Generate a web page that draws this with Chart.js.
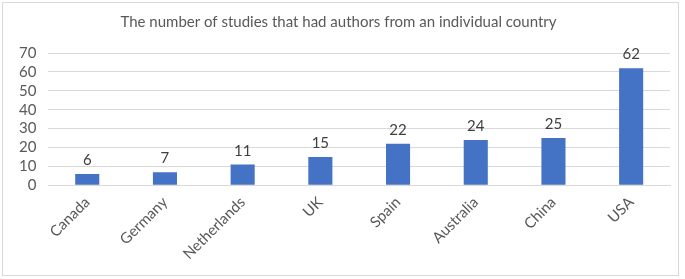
<!DOCTYPE html>
<html>
<head>
<meta charset="utf-8">
<script src="https://cdn.jsdelivr.net/npm/chart.js@4"></script>
<style>
  body { margin: 0; background: #fff; }
  #wrap { position: absolute; left: 2px; top: 2px; width: 677px; height: 274px; border: 1px solid #d9d9d9; box-sizing: border-box; }
</style>
</head>
<body>
<div id="wrap"><canvas id="chart"></canvas></div>
<script>
const countries = ['Canada', 'Germany', 'Netherlands', 'UK', 'Spain', 'Australia', 'China', 'USA']
const studies = [6, 7, 11, 15, 22, 24, 25, 62]
const chartTitle = 'The number of studies that had authors from an individual country'

const fontFamily = 'Lato, "Open Sans", sans-serif'
const textColor = '#595959'

// writes the value above each bar
const barValues = {
    id: 'barValues',
    afterDatasetsDraw(chart) {
        const ctx = chart.ctx
        const meta = chart.getDatasetMeta(0)
        ctx.save()
        ctx.font = '15px ' + fontFamily
        ctx.fillStyle = '#404040'
        ctx.textAlign = 'center'
        ctx.textBaseline = 'bottom'
        meta.data.forEach((bar, i) => {
            ctx.fillText(chart.data.datasets[0].data[i], bar.x, bar.y - 6)
        })
        ctx.restore()
    }
}

new Chart(document.getElementById('chart'), {
    type: 'bar',
    data: {
        labels: countries,
        datasets: [{
            data: studies,
            backgroundColor: '#4472c4',
            categoryPercentage: 1,
            barPercentage: 0.31
        }]
    },
    options: {
        responsive: true,
        maintainAspectRatio: false,
        animation: false,
        layout: { padding: { left: 4, right: 8, top: 0, bottom: 4 } },
        plugins: {
            legend: { display: false },
            tooltip: { enabled: false },
            title: {
                display: true,
                text: chartTitle,
                color: textColor,
                font: { family: fontFamily, size: 15, weight: 'normal' },
                padding: { top: 10, bottom: 22 }
            }
        },
        scales: {
            x: {
                grid: { display: false, drawTicks: false },
                border: { color: '#d9d9d9' },
                ticks: {
                    color: textColor,
                    font: { family: fontFamily, size: 15 },
                    minRotation: 45,
                    maxRotation: 45,
                    padding: 8
                }
            },
            y: {
                min: 0,
                max: 70,
                grid: { color: '#d9d9d9', drawTicks: false },
                border: { display: false },
                ticks: {
                    stepSize: 10,
                    autoSkip: false,
                    color: textColor,
                    font: { family: fontFamily, size: 15 },
                    padding: 12
                }
            }
        }
    },
    plugins: [barValues]
})
</script>
</body>
</html>
